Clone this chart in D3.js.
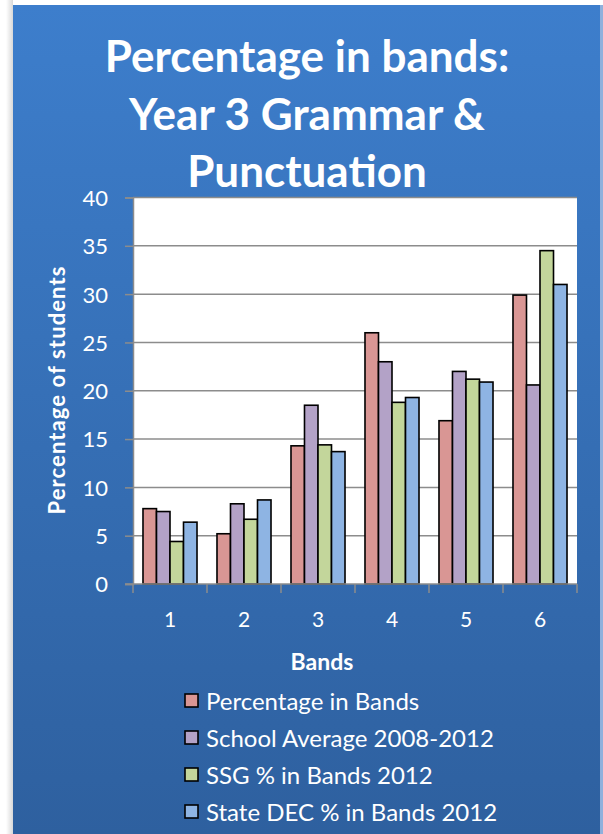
<!DOCTYPE html>
<html><head><meta charset="utf-8">
<script src="https://cdn.jsdelivr.net/npm/d3@7"></script>
<style>body{margin:0;background:#fff;}svg{display:block;}text{font-family:Lato,"Open Sans",sans-serif;fill:#fff;}</style>
</head><body>
<svg id="c" width="603" height="834"></svg>
<script>
const bands = ["1","2","3","4","5","6"];
const seriesNames = ["Percentage in Bands","School Average 2008-2012","SSG % in Bands 2012","State DEC % in Bands 2012"];
const seriesColors = ["#D99694","#B3A2C7","#C3D69B","#8EB4E3"];
const percentageInBands = [7.8, 5.2, 14.3, 26.0, 16.9, 29.9];
const schoolAverage = [7.5, 8.3, 18.5, 23.0, 22.0, 20.6];
const ssgBands = [4.4, 6.7, 14.4, 18.8, 21.2, 34.5];
const stateDec = [6.4, 8.7, 13.7, 19.3, 20.9, 31.0];
const yTicks = [0,5,10,15,20,25,30,35,40];
const titleLines = ["Percentage in bands:","Year 3 Grammar &","Punctuation"];

const allSeries = [percentageInBands, schoolAverage, ssgBands, stateDec];
const svg = d3.select("#c");
const defs = svg.append("defs");
const grad = defs.append("linearGradient").attr("id","bg").attr("x1",0).attr("y1",0).attr("x2",0).attr("y2",1);
grad.append("stop").attr("offset","0%").attr("stop-color","#3D7ECC");
grad.append("stop").attr("offset","100%").attr("stop-color","#2E609F");
const sh = defs.append("linearGradient").attr("id","sh").attr("x1",0).attr("y1",0).attr("x2",1).attr("y2",0);
sh.append("stop").attr("offset","0%").attr("stop-color","#fff");
sh.append("stop").attr("offset","100%").attr("stop-color","#d8d8d8");

svg.append("rect").attr("x",6).attr("y",0).attr("width",7).attr("height",834).attr("fill","url(#sh)");
svg.append("rect").attr("x",13).attr("y",5).attr("width",587).attr("height",829).attr("fill","url(#bg)");
svg.append("rect").attr("x",600).attr("y",5).attr("width",3).attr("height",829).attr("fill","#8fb0dc");

const x0 = d3.scaleBand().domain(bands).range([133,577]).paddingInner(0.27).paddingOuter(0.135);
const x1 = d3.scaleBand().domain(d3.range(4)).range([0,x0.bandwidth()]);
const y = d3.scaleLinear().domain([0,40]).range([584,197.5]);

svg.append("rect").attr("x",133).attr("y",y(40)).attr("width",444).attr("height",y(0)-y(40)).attr("fill","#fff");

// gridlines
svg.append("g").selectAll("line").data(yTicks.filter(d=>d>0)).join("line")
  .attr("x1",133).attr("x2",577).attr("y1",d=>y(d)).attr("y2",d=>y(d))
  .attr("stroke","#8c8c8c").attr("stroke-width",1.5);

// y axis
const yAxis = svg.append("g").attr("transform","translate(133,0)")
  .call(d3.axisLeft(y).tickValues(yTicks).tickSize(8).tickPadding(17));
yAxis.select(".domain").attr("stroke","#8c8c8c").attr("stroke-width",1.5);
yAxis.selectAll(".tick line").attr("stroke","#8c8c8c").attr("stroke-width",1.5);
yAxis.selectAll(".tick text").attr("fill","#fff").style("font-size","22px").style("font-family","Lato,sans-serif").attr("dy","0.36em");

// bars
const g = svg.append("g");
bands.forEach((b,i)=>{
  allSeries.forEach((s,j)=>{
    g.append("rect")
      .attr("x",x0(b)+x1(j)).attr("y",y(s[i]))
      .attr("width",x1.bandwidth()).attr("height",y(0)-y(s[i]))
      .attr("fill",seriesColors[j]).attr("stroke","#000").attr("stroke-width",1.6);
  });
});

// x axis
const xAxisG = svg.append("g").attr("transform","translate(0,584)");
xAxisG.append("line").attr("x1",125).attr("x2",577).attr("y1",0).attr("y2",0).attr("stroke","#8c8c8c").attr("stroke-width",1.5);
const bounds = bands.map(b=>x0(b)-x0.step()*x0.paddingInner()/2).concat([577]);
xAxisG.selectAll("line.t").data(bounds).join("line").attr("class","t")
  .attr("x1",d=>d).attr("x2",d=>d).attr("y1",0).attr("y2",9).attr("stroke","#8c8c8c").attr("stroke-width",1.5);
xAxisG.selectAll("text").data(bands).join("text")
  .attr("x",d=>x0(d)+x0.bandwidth()/2).attr("y",43).attr("text-anchor","middle")
  .style("font-size","21px").text(d=>d);

// axis titles
svg.append("text").attr("x",322).attr("y",670).attr("text-anchor","middle")
  .style("font-size","23px").style("font-weight","bold").text("Bands");
svg.append("text").attr("transform","translate(65,390) rotate(-90)").attr("text-anchor","middle")
  .style("font-size","22px").style("font-weight","bold").style("letter-spacing","1.1px").text("Percentage of students");

// title
svg.append("g").selectAll("text").data(titleLines).join("text")
  .attr("x",307).attr("y",(d,i)=>72+i*57.5).attr("text-anchor","middle")
  .style("font-size","44px").style("font-weight","bold").text(d=>d);

// legend
const lg = svg.append("g").selectAll("g").data(seriesNames).join("g")
  .attr("transform",(d,i)=>`translate(185,${701+i*37})`);
lg.append("rect").attr("x",0).attr("y",-7).attr("width",13).attr("height",13)
  .attr("fill",(d,i)=>seriesColors[i]).attr("stroke","#000").attr("stroke-width",1.6);
lg.append("text").attr("x",21).attr("y",8.5).style("font-size","24px").text(d=>d);
</script>
</body></html>
